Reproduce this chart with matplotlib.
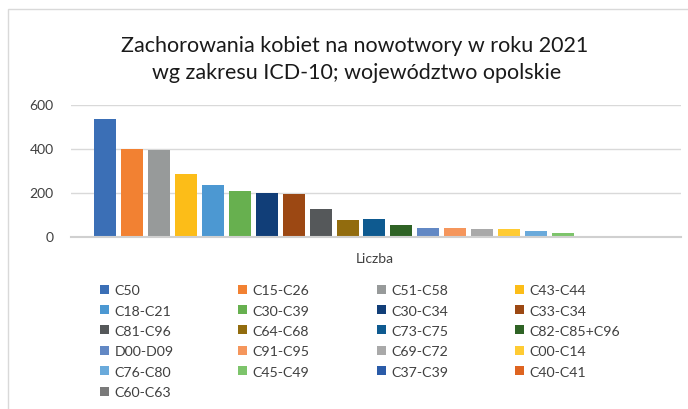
import numpy as np
import matplotlib.pyplot as plt
from matplotlib.patches import Rectangle

plt.rcParams['font.family'] = ['Lato', 'DejaVu Sans']

# ICD-10 groups and case counts
codes = ['C50', 'C15-C26', 'C51-C58', 'C43-C44', 'C18-C21', 'C30-C39', 'C30-C34',
         'C33-C34', 'C81-C96', 'C64-C68', 'C73-C75', 'C82-C85+C96', 'D00-D09',
         'C91-C95', 'C69-C72', 'C00-C14', 'C76-C80', 'C45-C49', 'C37-C39',
         'C40-C41', 'C60-C63']
counts = [536, 400, 391, 282, 236, 205, 200, 191, 127, 77, 78, 51, 40, 40, 36,
          32, 23, 14, 0, 0, 0]
colors = ['#3B6FB6', '#F28132', '#979A9A', '#FCBD18', '#4C98D2', '#67B04F',
          '#113E78', '#9C4813', '#55585A', '#926C0E', '#0E5A90', '#2F6325',
          '#6288C4', '#F5965C', '#A9A9A9', '#FFCB33', '#6AAADB', '#7DC46B',
          '#2A5BA8', '#DE6420', '#7A7A7A']
category = 'Liczba'
yticks = [0, 200, 400, 600]
title_lines = ['Zachorowania kobiet na nowotwory w roku 2021',
               'wg zakresu ICD-10; województwo opolskie']

W, H = 688, 410
fig = plt.figure(figsize=(W / 100, H / 100), dpi=100)
renderer = fig.canvas.get_renderer()


def px(x, y):
    # figure pixel coords (origin top-left) -> figure fraction
    return x / W, 1 - y / H


def fit_width(t, target):
    w = t.get_window_extent(renderer).width
    t.set_fontsize(t.get_fontsize() * target / w)
    return t.get_fontsize()


# light frame of the chart object (only left/top edges visible in the crop)
fig.add_artist(Rectangle(px(8, H + 20), 1.5, (H + 10) / H,
                         transform=fig.transFigure, fill=False,
                         edgecolor='#D9D9D9', linewidth=1.0))

x0, y0 = px(70.5, 237.5)
ax = fig.add_axes([x0, y0, 610 / W, 132 / H])

n = len(codes)
offsets = np.arange(n) - (n - 1) / 2
for off, val, col in zip(offsets, counts, colors):
    ax.bar(off, val, width=0.82, color=col, zorder=3)

ax.set_xlim(-11.3, 11.38)
ax.set_ylim(0, 600)
ax.set_yticks(yticks)
ax.set_yticklabels([str(t) for t in yticks], fontsize=10, color='#404040')
ax.set_xticks([0])
ax.set_xticklabels([category], fontsize=10, color='#404040')
ax.tick_params(axis='both', length=0)
ax.tick_params(axis='y', pad=12)
ax.tick_params(axis='x', pad=11)
ax.grid(axis='y', color='#D9D9D9', linewidth=1.0, zorder=0)
for s in ['top', 'right', 'left']:
    ax.spines[s].set_visible(False)
ax.spines['bottom'].set_color('#D0D0D0')
ax.spines['bottom'].set_linewidth(1.5)
ax.spines['bottom'].set_zorder(4)

# title, two lines
t1 = fig.text(*px(355, 51.7), title_lines[0], ha='center', va='baseline',
              fontsize=15, color='#1A1A1A')
fs = fit_width(t1, 468)
fig.text(*px(356.5, 79.3), title_lines[1], ha='center', va='baseline',
         fontsize=fs, color='#1A1A1A')

# legend: 4 columns, row-major order
ncol = 4
col_x = [100, 238, 376.5, 515]
row_y0, row_step = 290.3, 20.34
probe = fig.text(0, 0, codes[2], fontsize=11)
leg_fs = fit_width(probe, 57)
probe.remove()
cap = 0.72 * leg_fs * 100 / 72
for i, (code, col) in enumerate(zip(codes, colors)):
    r, c = divmod(i, ncol)
    cx, cy = col_x[c], row_y0 + r * row_step
    fig.add_artist(Rectangle(px(cx, cy + 4.5), 9 / W, 9 / H,
                             transform=fig.transFigure, facecolor=col,
                             edgecolor='none'))
    fig.text(*px(cx + 14.5, cy + cap / 2), code, ha='left', va='baseline',
             fontsize=leg_fs, color='#404040')

fig.savefig('out.png', dpi=100)
